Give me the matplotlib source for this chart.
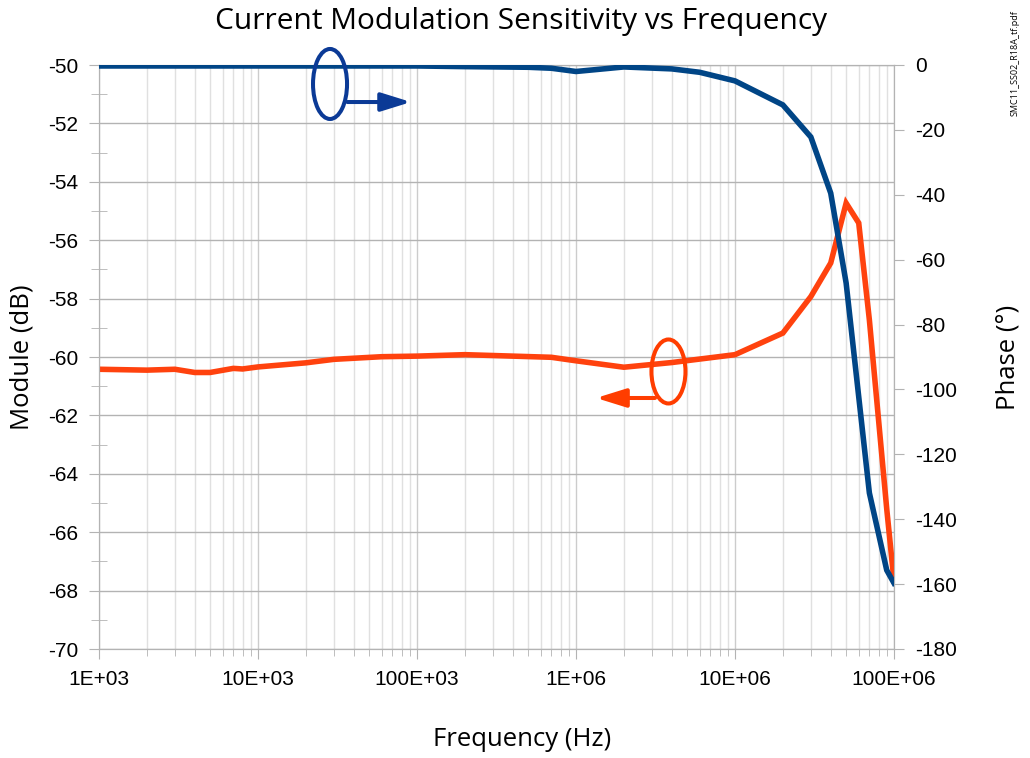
import matplotlib
matplotlib.use("Agg")
import matplotlib.pyplot as plt
from matplotlib.patches import Ellipse, FancyArrowPatch
from matplotlib.ticker import FixedLocator, FixedFormatter, NullFormatter

# module (left axis, dB)
freq_mod = [1e3, 2e3, 3e3, 4e3, 5e3, 7e3, 8e3, 1e4, 2e4, 3e4, 6e4, 1e5, 2e5, 7e5,
            1e6, 2e6, 4e6, 1e7, 2e7, 3e7, 4e7, 5e7, 6e7, 7e7, 9e7, 1e8]
module_db = [-60.42, -60.45, -60.42, -60.53, -60.53, -60.39, -60.41, -60.34, -60.20,
             -60.08, -59.99, -59.97, -59.92, -60.01, -60.13, -60.35, -60.19, -59.92,
             -59.18, -57.93, -56.78, -54.73, -55.41, -58.73, -65.2, -67.67]

# phase (right axis, degrees)
freq_ph = [1e3, 1e4, 1e5, 2e5, 5e5, 7e5, 1e6, 2e6, 4e6, 6e6, 1e7, 2e7, 3e7, 4e7,
           5e7, 7e7, 9e7, 1e8]
phase_deg = [-0.3, -0.3, -0.3, -0.5, -0.7, -1.0, -2.0, -0.6, -1.2, -2.25, -4.9, -12.3,
             -22.2, -39.5, -67.2, -131.9, -155.7, -159.7]

x_ticks = [1e3, 1e4, 1e5, 1e6, 1e7, 1e8]
x_labels = ["1E+03", "10E+03", "100E+03", "1E+06", "10E+06", "100E+06"]

BLUE = "#004586"
RED = "#ff420e"
GRID = "#b3b3b3"
TICK_FONT = "Liberation Sans"
LABEL_FONT = "Open Sans"

plt.rcParams["axes.unicode_minus"] = False


def main() -> None:
    fig = plt.figure(figsize=(10.3, 7.58), dpi=100)
    ax = fig.add_axes([99 / 1030, 109 / 758, 795 / 1030, 584 / 758])
    ax2 = ax.twinx()

    ax.plot(freq_mod, module_db, color=RED, linewidth=4, solid_joinstyle="miter", zorder=3)
    ax2.plot(freq_ph, phase_deg, color=BLUE, linewidth=4, solid_joinstyle="miter", zorder=3)

    ax.set_xscale("log")
    ax.set_xlim(1e3, 1e8)
    ax.set_ylim(-70, -50)
    ax2.set_ylim(-180, 0)

    ax.xaxis.set_major_locator(FixedLocator(x_ticks))
    ax.xaxis.set_major_formatter(FixedFormatter(x_labels))
    minors = [m * d for d in x_ticks[:-1] for m in range(2, 10)]
    ax.xaxis.set_minor_locator(FixedLocator(minors))
    ax.xaxis.set_minor_formatter(NullFormatter())

    ax.yaxis.set_major_locator(FixedLocator(list(range(-70, -49, 2))))
    ax.yaxis.set_minor_locator(FixedLocator(list(range(-69, -50, 2))))
    ax2.yaxis.set_major_locator(FixedLocator(list(range(-180, 1, 20))))

    ax.grid(which="major", axis="y", color=GRID, linewidth=1.0)
    ax.grid(which="major", axis="x", color="#cccccc", linewidth=1.0)
    ax.grid(which="minor", axis="x", color="#e0e0e0", linewidth=1.0)
    ax.set_axisbelow(True)

    ax.tick_params(axis="x", which="major", direction="out", length=7, color=GRID, pad=8)
    ax.tick_params(axis="x", which="minor", direction="out", length=5, color=GRID)
    ax.tick_params(axis="y", which="major", direction="out", length=7, color=GRID, pad=8)
    ax.tick_params(axis="y", which="minor", direction="inout", length=11, color=GRID)
    ax2.tick_params(axis="y", which="major", direction="out", length=7, color=GRID, pad=8)

    for a in (ax, ax2):
        for sp in a.spines.values():
            sp.set_color(GRID)
        for lab in a.get_xticklabels() + a.get_yticklabels():
            lab.set_fontfamily(TICK_FONT)
            lab.set_fontsize(15)

    fig.text(521 / 1030, 1 - 22 / 758, "Current Modulation Sensitivity vs Frequency",
             family=LABEL_FONT, fontsize=21.5, ha="center", va="center")
    fig.text(22 / 1030, 1 - 357 / 758, "Module (dB)", family=LABEL_FONT, fontsize=18.5,
             rotation=90, ha="center", va="center")
    fig.text(1008 / 1030, 1 - 357 / 758, "Phase (°)", family=LABEL_FONT, fontsize=18.5,
             rotation=90, ha="center", va="center")
    fig.text(522 / 1030, 1 - 740 / 758, "Frequency (Hz)", family=LABEL_FONT, fontsize=18.5,
             ha="center", va="center")
    fig.text(1015 / 1030, 1 - 63 / 758, "SMC11_SS02_R18A_tf.pdf", family=LABEL_FONT,
             fontsize=6.5, rotation=90, ha="center", va="center")

    # annotation: blue ellipse -> right axis
    ell_b = Ellipse((0.2906, 0.9675), 0.0428, 0.1199, transform=ax2.transAxes,
                    fill=False, edgecolor="#0b3a96", linewidth=2.9, clip_on=False, zorder=5)
    ax2.add_patch(ell_b)
    arr_b = FancyArrowPatch((0.3125, 0.9366), (0.3925, 0.9366), transform=ax2.transAxes,
                            arrowstyle="-|>,head_length=0.9,head_width=0.28", mutation_scale=20,
                            color="#0b3a96", linewidth=2.9, shrinkA=0, shrinkB=0,
                            clip_on=False, zorder=5)
    ax2.add_patch(arr_b)

    # annotation: red ellipse -> left axis
    ell_r = Ellipse((0.7163, 0.4752), 0.0428, 0.1096, transform=ax2.transAxes,
                    fill=False, edgecolor="#ff3d00", linewidth=2.9, clip_on=False, zorder=5)
    ax2.add_patch(ell_r)
    arr_r = FancyArrowPatch((0.6994, 0.4298), (0.6252, 0.4298), transform=ax2.transAxes,
                            arrowstyle="-|>,head_length=0.9,head_width=0.28", mutation_scale=20,
                            color="#ff3d00", linewidth=2.9, shrinkA=0, shrinkB=0,
                            clip_on=False, zorder=5)
    ax2.add_patch(arr_r)

    fig.savefig("out.png", dpi=100)
    plt.close(fig)


if __name__ == "__main__":
    main()
